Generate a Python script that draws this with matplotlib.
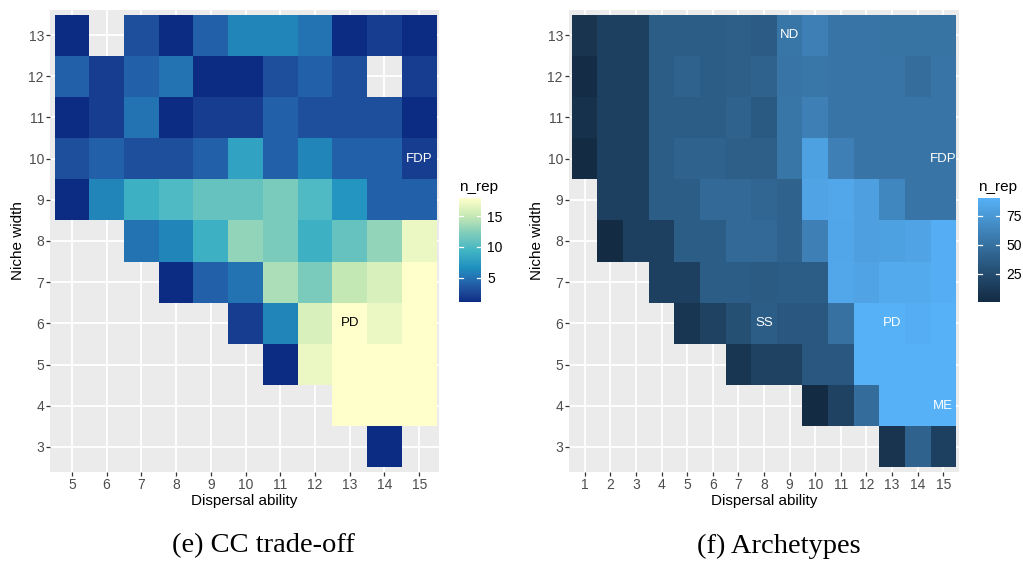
import numpy as np
import matplotlib
matplotlib.use("Agg")
import matplotlib.pyplot as plt
from matplotlib.colors import ListedColormap, Normalize, to_rgb

nan = np.nan

# ---------------------------------------------------------------- data
niche_width = list(range(13, 2, -1))          # rows, top to bottom
cc_dispersal = list(range(5, 16))
arch_dispersal = list(range(1, 16))

# n_rep for the CC trade-off panel (rows follow niche_width)
cc_nrep = [
    [1, nan, 3, 1, 4, 6, 6, 5, 1, 2, 1],
    [4, 2, 4, 5, 1, 1, 3, 4, 3, nan, 2],
    [1, 2, 5, 1, 2, 2, 4, 3, 3, 3, 1],
    [3, 4, 3, 3, 4, 8, 4, 6, 4, 4, 2],
    [1, 6, 9, 10, 11, 11, 12, 10, 7, 4, 4],
    [nan, nan, 5, 6, 9, 13, 12, 9, 11, 13, 17],
    [nan, nan, nan, 1, 4, 5, 14, 12, 15, 16, 18],
    [nan, nan, nan, nan, nan, 2, 6, 16, 18, 17, 18],
    [nan, nan, nan, nan, nan, nan, 1, 17, 18, 18, 18],
    [nan, nan, nan, nan, nan, nan, nan, nan, 18, 18, 18],
    [nan, nan, nan, nan, nan, nan, nan, nan, nan, 1, nan],
]

# n_rep for the archetypes panel (rows follow niche_width)
arch_nrep = [
    [8, 17, 17, 37, 37, 37, 38, 36, 53, 60, 52, 52, 51, 51, 51],
    [2, 17, 17, 37, 40, 37, 38, 40, 52, 54, 52, 52, 52, 48, 52],
    [6, 17, 17, 37, 37, 37, 40, 34, 53, 60, 52, 52, 52, 52, 52],
    [1, 17, 17, 37, 40, 40, 38, 38, 53, 80, 60, 52, 52, 52, 52],
    [nan, 17, 17, 37, 37, 45, 45, 43, 40, 82, 84, 79, 64, 52, 52],
    [nan, 1, 17, 17, 37, 37, 45, 45, 40, 60, 83, 79, 80, 82, 88],
    [nan, nan, nan, 17, 17, 37, 37, 35, 37, 37, 84, 82, 86, 86, 88],
    [nan, nan, nan, nan, 9, 18, 27, 37, 33, 33, 50, 90, 90, 88, 90],
    [nan, nan, nan, nan, nan, nan, 9, 18, 18, 33, 33, 90, 90, 90, 90],
    [nan, nan, nan, nan, nan, nan, nan, nan, nan, 1, 18, 47, 90, 90, 90],
    [nan, nan, nan, nan, nan, nan, nan, nan, nan, nan, nan, nan, 8, 40, 17],
]

cc_labels = [("FDP", 15, 10, "white"), ("PD", 13, 6, "black")]
arch_labels = [("ND", 9, 13, "white"), ("FDP", 15, 10, "white"),
               ("SS", 8, 6, "white"), ("PD", 13, 6, "white"),
               ("ME", 15, 4, "white")]

cc_ticks = [5, 10, 15]
arch_ticks = [25, 50, 75]

ylgnbu7 = ["#0C2C84", "#225EA8", "#1D91C0", "#41B6C4",
           "#7FCDBB", "#C7E9B4", "#FFFFCC"]
blues_default = ["#132B43", "#56B1F7"]


# ---------------------------------------------------------------- colour ramps in CIE Lab
WHITE = np.array([0.95047, 1.0, 1.08883])
M = np.array([[0.4124564, 0.3575761, 0.1804375],
              [0.2126729, 0.7151522, 0.0721750],
              [0.0193339, 0.1191920, 0.9503041]])


def srgb_to_lab(rgb):
    c = np.asarray(rgb, float)
    lin = np.where(c <= 0.04045, c / 12.92, ((c + 0.055) / 1.055) ** 2.4)
    xyz = lin @ M.T / WHITE
    d = 6 / 29
    f = np.where(xyz > d ** 3, np.cbrt(xyz), xyz / (3 * d * d) + 4 / 29)
    L = 116 * f[..., 1] - 16
    a = 500 * (f[..., 0] - f[..., 1])
    b = 200 * (f[..., 1] - f[..., 2])
    return np.stack([L, a, b], -1)


def lab_to_srgb(lab):
    lab = np.asarray(lab, float)
    fy = (lab[..., 0] + 16) / 116
    fx = fy + lab[..., 1] / 500
    fz = fy - lab[..., 2] / 200
    f = np.stack([fx, fy, fz], -1)
    d = 6 / 29
    xyz = np.where(f > d, f ** 3, 3 * d * d * (f - 4 / 29)) * WHITE
    lin = xyz @ np.linalg.inv(M).T
    lin = np.clip(lin, 0, 1)
    c = np.where(lin <= 0.0031308, 12.92 * lin,
                 1.055 * lin ** (1 / 2.4) - 0.055)
    return np.clip(c, 0, 1)


def lab_ramp(hex_colors, n=300):
    labs = srgb_to_lab([to_rgb(h) for h in hex_colors])
    pos = np.linspace(0, 1, len(hex_colors))
    t = np.linspace(0, 1, n)
    out = np.stack([np.interp(t, pos, labs[:, k]) for k in range(3)], -1)
    return ListedColormap(lab_to_srgb(out))


cmap_cc = lab_ramp(ylgnbu7)
cmap_arch = lab_ramp(blues_default)

# ---------------------------------------------------------------- figure
DPI = 100
W, H = 1023, 561
plt.rcParams["font.family"] = ["Liberation Sans", "DejaVu Sans"]
fig = plt.figure(figsize=(W / DPI, H / DPI), dpi=DPI)


def px_axes(x0, y0, x1, y1):
    return fig.add_axes([x0 / W, 1 - y1 / H, (x1 - x0) / W, (y1 - y0) / H])


def heat_panel(ax, xs, ys, grid, cmap, labels, xlim):
    z = np.array(grid, float)[::-1]
    yv = np.array(ys)[::-1]
    xe = np.arange(min(xs) - 0.5, max(xs) + 1.0)
    ye = np.arange(min(yv) - 0.5, max(yv) + 1.0)
    norm = Normalize(np.nanmin(z), np.nanmax(z))
    mesh = ax.pcolormesh(xe, ye, np.ma.masked_invalid(z), cmap=cmap,
                         norm=norm, shading="flat", zorder=1)
    ax.set_facecolor("#EBEBEB")
    ax.set_axisbelow(True)
    ax.grid(True, color="white", linewidth=1.3)
    for s in ax.spines.values():
        s.set_visible(False)
    ax.set_xticks(xs)
    ax.set_yticks(sorted(ys))
    ax.set_xlim(*xlim)
    ax.set_ylim(2.39, 13.61)
    ax.tick_params(colors="#333333", labelcolor="#4D4D4D", labelsize=10,
                   length=2.6, width=0.9, pad=1.8)
    ax.set_xlabel("Dispersal ability", fontsize=11, color="black")
    ax.set_ylabel("Niche width", fontsize=11, color="black")
    ax.xaxis.label.set_va("center")
    ax.yaxis.label.set_va("center")
    ax.xaxis.set_label_coords(0.5, -0.063)
    ax.yaxis.set_label_coords(-0.082, 0.5)
    for txt, x, y, col in labels:
        ax.text(x, y, txt, color=col, ha="center", va="center",
                fontsize=9.5, zorder=3)
    return mesh, norm


def colorbar(mesh, norm, x0, ticks):
    cax = px_axes(x0, 198, x0 + 22, 302)
    cb = fig.colorbar(mesh, cax=cax, ticks=ticks)
    cb.outline.set_visible(False)
    cax.tick_params(length=0, pad=4.5, labelsize=10, labelcolor="black")
    for v in ticks:
        cax.axhline(v, xmin=0, xmax=0.2, color="white", linewidth=0.9)
        cax.axhline(v, xmin=0.8, xmax=1, color="white", linewidth=0.9)
    fig.text(x0 / W, 1 - 190.5 / H, "n_rep", fontsize=11, ha="left",
             va="baseline", color="black")


ax1 = px_axes(50, 10, 439, 472)
m1, n1 = heat_panel(ax1, cc_dispersal, niche_width, cc_nrep, cmap_cc,
                    cc_labels, (4.37, 15.57))
colorbar(m1, n1, 459, cc_ticks)

ax2 = px_axes(569, 10, 959, 472)
m2, n2 = heat_panel(ax2, arch_dispersal, niche_width, arch_nrep, cmap_arch,
                    arch_labels, (0.39, 15.61))
colorbar(m2, n2, 978, arch_ticks)

cap_font = ["Liberation Serif", "DejaVu Serif"]
fig.text(263 / W, 1 - 546 / H, "(e) CC trade-off", family=cap_font,
         fontsize=20.5, ha="center", va="center")
fig.text(779 / W, 1 - 546 / H, "(f) Archetypes", family=cap_font,
         fontsize=20.5, ha="center", va="center")

fig.savefig("out.png", dpi=DPI)
